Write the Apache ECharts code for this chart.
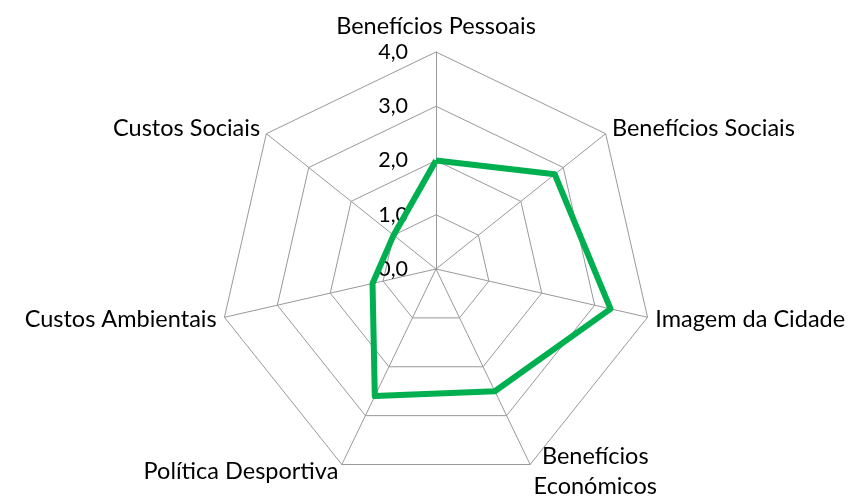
<!DOCTYPE html>
<html>
<head>
<meta charset="utf-8">
<script src="https://cdn.jsdelivr.net/npm/echarts@6/dist/echarts.min.js"></script>
<style>
html,body{margin:0;padding:0;background:#fff;}
#chart{width:860px;height:499px;}
</style>
</head>
<body>
<div id="chart"></div>
<script>
const categories = ['Benefícios Pessoais', 'Benefícios Sociais', 'Imagem da Cidade', 'Benefícios\nEconómicos', 'Política Desportiva', 'Custos Ambientais', 'Custos Sociais'];
const values = [2.0, 2.8, 3.3, 2.5, 2.6, 1.2, 1.0];
const axisMax = 4;
const tickCount = 4;

// ECharts radar runs counter-clockwise; reorder so categories run clockwise like the reference
const order = [0].concat(categories.map((_, i) => i).slice(1).reverse());
const cats = order.map(i => categories[i]);
const vals = order.map(i => values[i]);

const chart = echarts.init(document.getElementById('chart'));
const font = 'Lato, "Liberation Sans", sans-serif';
chart.setOption({
  animation: false,
  backgroundColor: '#fff',
  radar: {
    center: [436, 269],
    radius: 217,
    startAngle: 90,
    splitNumber: tickCount,
    shape: 'polygon',
    nameGap: 8,
    axisName: {
      color: '#000', fontSize: 23.5, fontFamily: font, lineHeight: 30,
      formatter: n => n.indexOf('\n') >= 0 ? n.split('\n').map(s => '{c|' + s + '}').join('\n') : n,
      rich: { c: { align: 'center', color: '#000', fontSize: 23.5, fontFamily: font, lineHeight: 30 } }
    },
    indicator: cats.map((c, i) => {
      const o = { name: c, min: 0, max: axisMax };
      if (i === 0) o.axisLabel = { show: true };
      return o;
    }),
    axisLine: { lineStyle: { color: '#999', width: 1 } },
    splitLine: { lineStyle: { color: '#999', width: 1 } },
    splitArea: { show: false },
    axisTick: { show: false },
    axisLabel: {
      show: false,
      color: '#000',
      fontSize: 21.5,
      fontFamily: font,
      margin: 28,
      formatter: v => v.toFixed(1).replace('.', ',')
    }
  },
  series: [{
    type: 'radar',
    symbol: 'none',
    lineStyle: { color: '#00B050', width: 6 },
    data: [{ value: vals }]
  }]
});
</script>
</body>
</html>
